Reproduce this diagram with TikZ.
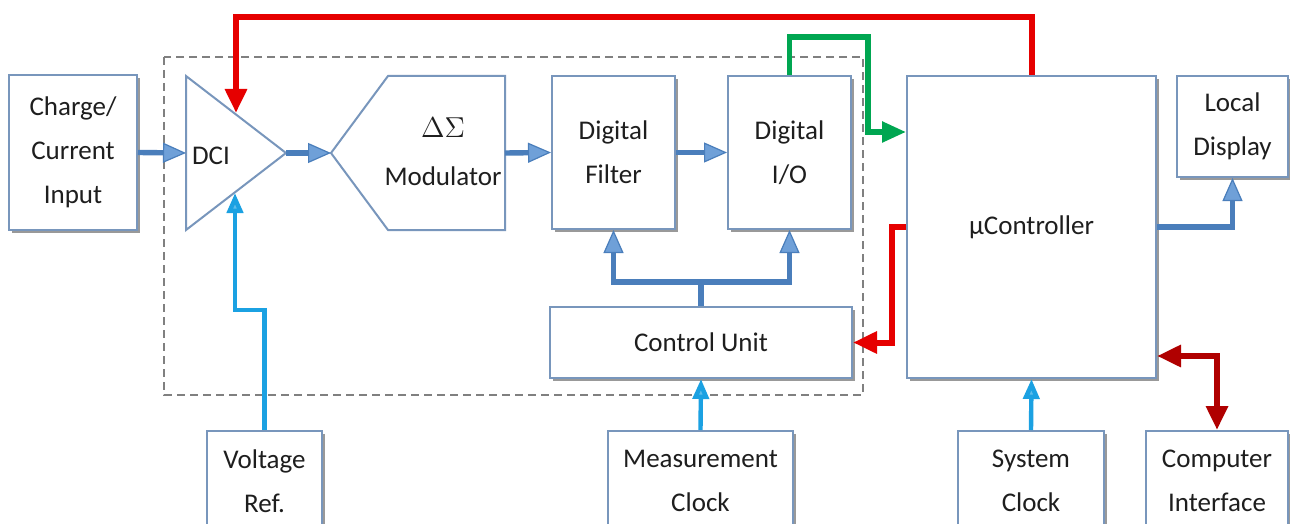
\documentclass[tikz,border=0pt]{standalone}
\usepackage{fontspec}
\setmainfont{Carlito}
\usetikzlibrary{arrows.meta,shadows}
\definecolor{bx}{HTML}{7896BC}
\definecolor{txt}{HTML}{1E1E1E}
\definecolor{ablue}{HTML}{4A7EBB}
\definecolor{abluel}{HTML}{6FA0D8}
\definecolor{cyanA}{HTML}{1BA1E2}
\definecolor{redA}{HTML}{E60000}
\definecolor{dredA}{HTML}{B00000}
\definecolor{greenA}{HTML}{00A651}
\begin{document}
\begin{tikzpicture}[x=0.5pt,y=-0.5pt,
  box/.style={draw=bx, line width=1pt, fill=white, inner sep=0pt, align=center,
    font=\fontsize{13.5}{22}\selectfont, text=txt,
    drop shadow={shadow xshift=1.5pt, shadow yshift=-1.5pt, fill=black!40, opacity=1}},
  outlineshape/.style={draw=bx, line width=1pt, fill=white},
  lbl/.style={inner sep=0pt, align=center, font=\fontsize{13.5}{22}\selectfont, text=txt},
  barrow/.style={draw=ablue, line width=2.7pt, -{Triangle[length=11.5pt,width=10pt,fill=abluel,line width=0.6pt]}},
  bline/.style={draw=ablue, line width=2.7pt},
  carrow/.style={draw=cyanA, line width=2.2pt, -{Triangle[length=10pt,width=8pt,fill=cyanA!70!white]}},
  rarrow/.style={draw=redA, line width=3pt, -{Triangle[length=12pt,width=10.5pt,fill=redA]}},
  darrow/.style={draw=dredA, line width=3pt, {Triangle[length=12pt,width=10.5pt,fill=dredA]}-{Triangle[length=12pt,width=10.5pt,fill=dredA]}},
  garrow/.style={draw=greenA, line width=2.7pt, -{Triangle[length=12pt,width=10pt,fill=greenA]}}]
\clip (0,0) rectangle (1290,524);
\fill[white] (0,0) rectangle (1290,524);

% dashed boundary
\draw[gray, line width=0.8pt, dash pattern=on 4pt off 2.5pt] (164,57) rectangle (863,395);

% boxes
\node[box, minimum width=64pt, minimum height=77.5pt] (charge) at (73,152.5) {Charge/\\Current\\Input};
\node[box, minimum width=61.5pt, minimum height=76.5pt] (filter) at (613.5,152.5) {Digital\\Filter};
\node[box, minimum width=61.5pt, minimum height=76.5pt] (io) at (789.5,152.5) {Digital\\I/O};
\node[box, minimum width=124.5pt, minimum height=151pt] (mc) at (1031.5,227) {µController};
\node[box, minimum width=55.5pt, minimum height=50.5pt] (disp) at (1232.5,126.5) {Local\\Display};
\node[box, minimum width=151pt, minimum height=35.5pt] (cu) at (701,342.5) {Control Unit};
\node[box, minimum width=57.5pt, minimum height=50pt] (vref) at (264.5,481) {Voltage\\Ref.};
\node[box, minimum width=92.5pt, minimum height=50pt] (mclk) at (700.5,481) {Measurement\\Clock};
\node[box, minimum width=73pt, minimum height=50pt] (sclk) at (1031,481) {System\\Clock};
\node[box, minimum width=71pt, minimum height=50pt] (comp) at (1217,481) {Computer\\Interface};

% DCI triangle
\draw[outlineshape] (186,76) -- (286,153) -- (186,230) -- cycle;
\node[lbl] (dci) at (211,156) {DCI};
\coordinate (dciin) at (186,153);
\coordinate (dciout) at (286,153);
\coordinate (dcitop) at (236,113);
\coordinate (dcibot) at (235,193);

% Delta-Sigma modulator
\draw[outlineshape] (331,153) -- (388,76) -- (505,76) -- (505,230) -- (388,230) -- cycle;
\node[lbl, font=\fontsize{13.5}{24}\selectfont] (mod) at (443,152) {$\Delta\Sigma$\\Modulator};
\coordinate (modin) at (331,153);
\coordinate (modout) at (505,153);

% signal path
\draw[barrow] (charge.east) -- (dciin);
\draw[barrow] (dciout) -- (modin);
\draw[barrow] (modout) -- (filter.west);
\draw[barrow] (filter.east) -- (io.west);

% green: I/O to controller
\coordinate (g0) at (868,37);
\coordinate (g1) at (868,132);
\draw[garrow] (io.north) |- (g0) |- (g1 -| mc.west);

% red: controller to DCI
\coordinate (r0) at (236,17);
\draw[rarrow] (mc.north) |- (r0) -- (dcitop);

% red: controller to control unit
\coordinate (r1) at (892,300);
\draw[rarrow] (mc.west) -| (r1) |- (cu.east);

% controller to display
\draw[barrow] (mc.east) -| (disp.south);

% control unit branches
\coordinate (cb) at (701,282);
\draw[bline] (cu.north) -- (cb);
\draw[barrow] (cb) -| (filter.south);
\draw[barrow] (cb) -| (io.south);

% clocks and references
\draw[carrow] (mclk.north) -- (cu.south);
\coordinate (v1) at (235,310);
\draw[carrow] (vref.north) |- (v1) -- (dcibot);
\draw[carrow] (sclk.north) -- (mc.south);

% computer interface
\coordinate (c1) at (1218,356);
\draw[darrow] (c1 -| mc.east) -| (comp.north);
\end{tikzpicture}
\end{document}
